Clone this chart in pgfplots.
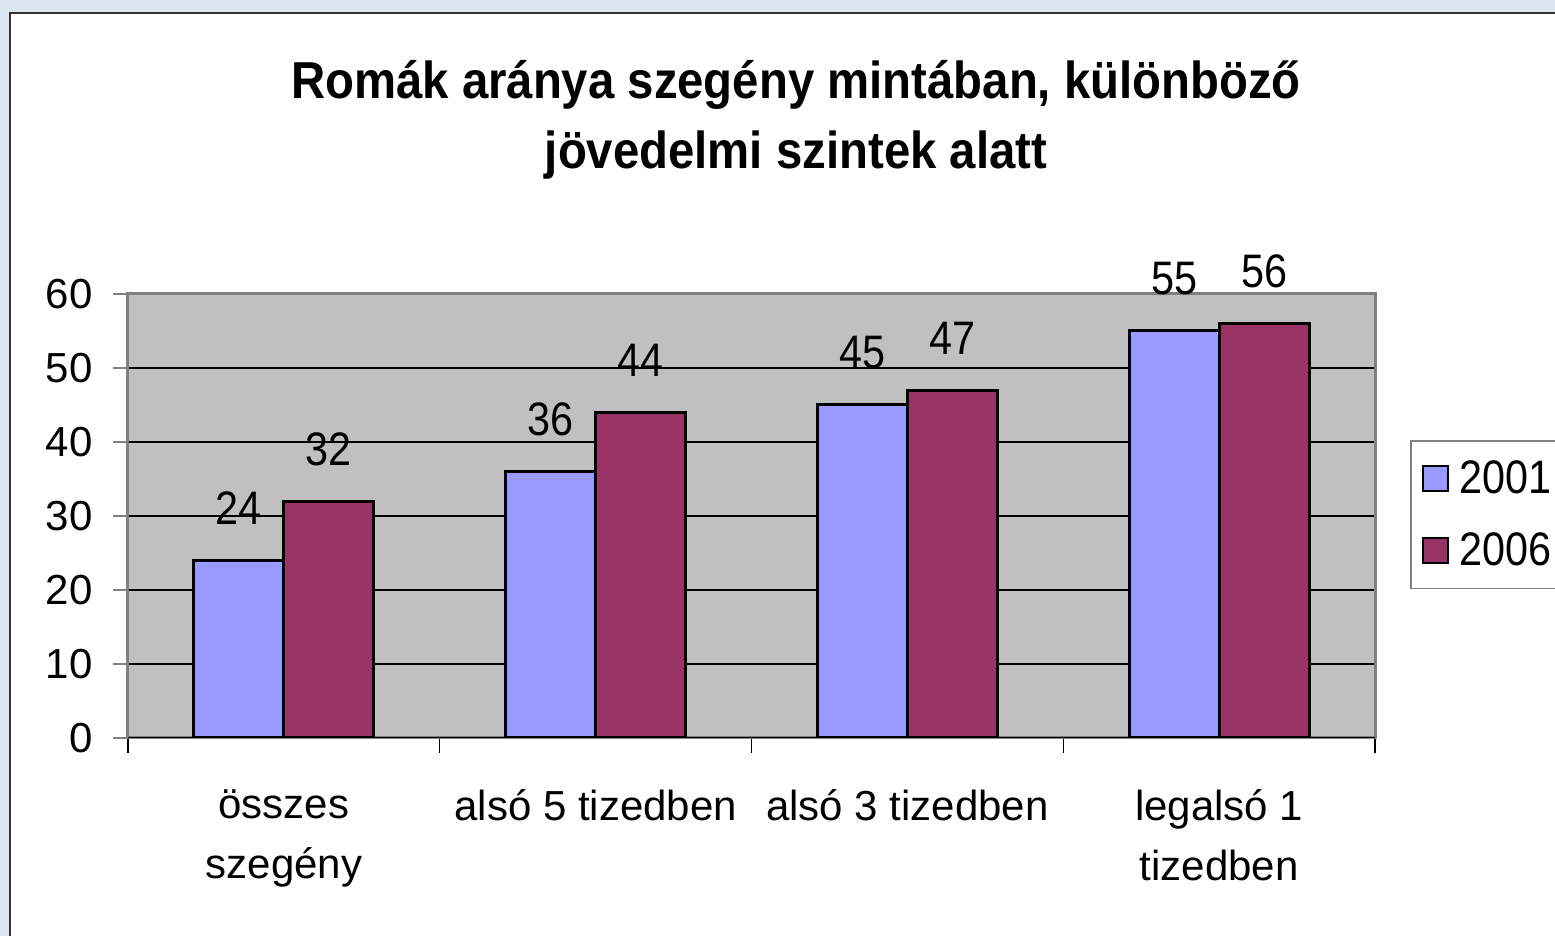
\documentclass[border=0pt]{standalone}
\usepackage{fontspec}
\setmainfont{Liberation Sans}
\newfontfamily\narrowfont[FakeStretch=0.88]{Liberation Sans}
\newfontfamily\titlefont[FakeStretch=0.91]{Liberation Sans}
\usepackage{pgfplots}
\pgfplotsset{compat=1.18}
\definecolor{bgblue}{HTML}{DCE6F2}
\definecolor{c01}{HTML}{9999FF}
\definecolor{c06}{HTML}{993366}
\definecolor{plotbg}{HTML}{C0C0C0}
\definecolor{bordergray}{HTML}{808080}
\pgfplotsset{
  sqlegend/.style={legend image code/.code={\draw[##1, line width=1.2pt] (0pt,-6.25pt) rectangle (12.5pt,6.25pt);}}
}
\begin{document}
\begin{tikzpicture}
\path[use as bounding box] (-64pt,369pt) rectangle (713.5pt,-99pt);
\fill[bgblue] (-64pt,369pt) rectangle (713.5pt,-99pt);
\draw[fill=white, draw=black!80, line width=1pt] (-59pt,362.5pt) rectangle (730pt,-120pt);
\node[anchor=base, font=\titlefont\fontsize{26}{26}\selectfont\bfseries] at (334pt,319.5pt) {Romák aránya szegény mintában, különböző};
\node[anchor=base, font=\titlefont\fontsize{26}{26}\selectfont\bfseries] at (334pt,284.5pt) {jövedelmi szintek alatt};
\begin{axis}[
  at={(0pt,0pt)}, anchor=south west,
  width=623.5pt, height=222pt, scale only axis,
  xmin=-0.5, xmax=3.5, ymin=0, ymax=60,
  ybar=0pt, bar width=45pt,
  xtick={0,1,2,3},
  xticklabels={összes\\szegény, alsó 5 tizedben, alsó 3 tizedben, legalsó 1\\tizedben},
  xticklabel style={align=center, font=\fontsize{21}{30}\selectfont, inner sep=0pt, anchor=north, yshift=-18pt},
  major x tick style={draw=none},
  minor xtick={-0.5,0.5,1.5,2.5,3.5},
  minor x tick style={black, line width=0.75pt},
  tick align=outside, tick pos=left,
  major tick length=7.5pt, minor tick length=7.5pt,
  ytick={0,10,...,60},
  y tick style={bordergray, line width=0.75pt},
  yticklabel style={font=\fontsize{21}{21}\selectfont, inner sep=0pt, anchor=east, xshift=-10pt},
  /pgf/number format/assume math mode=true,
  ymajorgrids, major grid style={black, line width=0.6pt},
  axis background/.style={fill=plotbg},
  axis line style={bordergray, line width=1.5pt},
  nodes near coords,
  nodes near coords style={font=\narrowfont\fontsize{23.5}{23.5}\selectfont, anchor=base, yshift=18pt, black},
  legend style={at={(1.0281,0.671)}, anchor=north west, draw=bordergray, line width=0.75pt, fill=white,
    font=\narrowfont\fontsize{23.5}{23.5}\selectfont, inner xsep=5.5pt, inner ysep=8pt, row sep=14pt,
    column sep=3pt, nodes={inner sep=2pt}},
  legend cell align=left,
]
\addplot[fill=c01, draw=black, line width=1.5pt, sqlegend] coordinates {(0,24) (1,36) (2,45) (3,55)};
\addplot[fill=c06, draw=black, line width=1.5pt, sqlegend] coordinates {(0,32) (1,44) (2,47) (3,56)};
\legend{2001,2006}
\draw[black, line width=1.2pt] (rel axis cs:0,0) -- (rel axis cs:1,0);
\end{axis}
\end{tikzpicture}
\end{document}
